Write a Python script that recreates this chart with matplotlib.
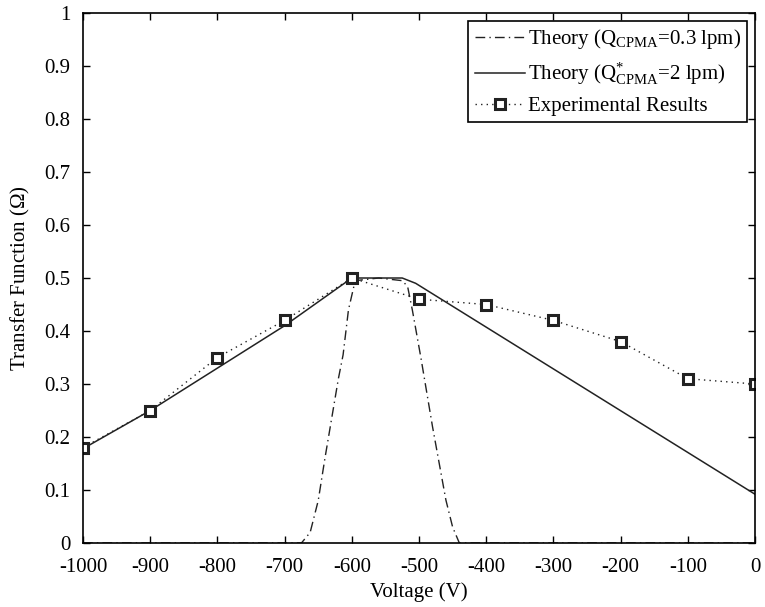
import matplotlib
matplotlib.use("Agg")
import matplotlib.pyplot as plt

plt.rcParams['font.family'] = ['Liberation Serif', 'DejaVu Serif']
plt.rcParams['mathtext.fontset'] = 'custom'
plt.rcParams['mathtext.rm'] = 'Liberation Serif'
plt.rcParams['mathtext.it'] = 'Liberation Serif:italic'
plt.rcParams['mathtext.bf'] = 'Liberation Serif:bold'

# Theory, Q_CPMA = 0.3 lpm (dash-dot)
v_low = [-1000, -675, -662, -650, -640, -630, -620, -613, -605, -595, -560, -525, -517, -510, -497, -480, -460, -450, -440, 0]
t_low = [0.0, 0.0, 0.02, 0.08, 0.16, 0.235, 0.31, 0.355, 0.44, 0.495, 0.5, 0.495, 0.484, 0.44, 0.348, 0.22, 0.081, 0.03, 0.0, 0.0]

# Theory, Q*_CPMA = 2 lpm (solid)
v_high = [-1000, -900, -800, -700, -600, -525, -505, 0]
t_high = [0.178, 0.25, 0.33, 0.41, 0.50, 0.50, 0.49, 0.092]

# Experimental results
v_exp = [-1000, -900, -800, -700, -600, -500, -400, -300, -200, -100, 0]
t_exp = [0.18, 0.25, 0.35, 0.42, 0.50, 0.46, 0.45, 0.42, 0.38, 0.31, 0.30]

xticks = [-1000, -900, -800, -700, -600, -500, -400, -300, -200, -100, 0]
yticks = [0, 0.1, 0.2, 0.3, 0.4, 0.5, 0.6, 0.7, 0.8, 0.9, 1]
ytick_labels = ['0', '0.1', '0.2', '0.3', '0.4', '0.5', '0.6', '0.7', '0.8', '0.9', '1']

fig = plt.figure(figsize=(7.65, 6.07), dpi=100)
ax = fig.add_axes([0.1085, 0.1054, 0.8785, 0.8732])

ax.plot(v_low, t_low, color='#222222', lw=1.0, linestyle=(0, (7, 3, 1, 3)),
        label=r'Theory (Q$_{\mathrm{CPMA}}$=0.3 lpm)')
ax.plot(v_high, t_high, color='#222222', lw=1.1, linestyle='-',
        label=r'Theory (Q$^{*}_{\mathrm{CPMA}}$=2 lpm)')
ax.plot(v_exp, t_exp, color='#222222', lw=1.0, linestyle=(0, (1, 3)),
        marker='s', markersize=7, markerfacecolor='white',
        markeredgecolor='#222222', markeredgewidth=2.2,
        label='Experimental Results')

ax.set_xlim(-1000, 0)
ax.set_ylim(0, 1)
ax.set_xticks(xticks)
ax.set_xticklabels([str(x) for x in xticks])
ax.set_yticks(yticks)
ax.set_yticklabels(ytick_labels)
ax.tick_params(direction='in', top=True, right=True, labelsize=15, length=5, width=1)
ax.tick_params(axis='x', pad=10.5)
ax.tick_params(axis='y', pad=9)
for s in ax.spines.values():
    s.set_linewidth(1.2)

ax.set_xlabel('Voltage (V)', fontsize=15, labelpad=4)
ax.set_ylabel(r'Transfer Function ($\Omega$)', fontsize=15, labelpad=9)

leg = ax.legend(loc='upper right', fontsize=15, frameon=True, fancybox=False,
                edgecolor='black', framealpha=1, handlelength=2.4,
                borderaxespad=0.38, borderpad=0.3, labelspacing=0.45, handletextpad=0.15)
leg.get_frame().set_linewidth(1.2)

fig.savefig('out.png', dpi=100)
